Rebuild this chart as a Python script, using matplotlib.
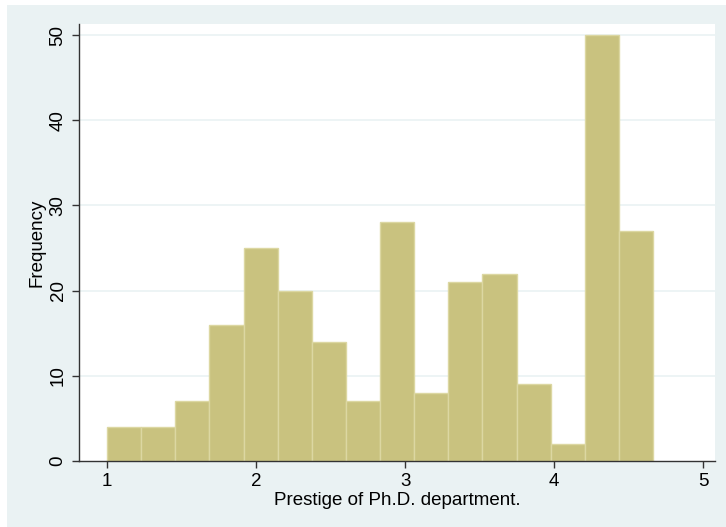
import numpy as np
import matplotlib as mpl
mpl.use('Agg')
import matplotlib.pyplot as plt

### histogram data (16 bins)
bin_start = 1.0
bin_width = 0.229
counts = [4, 4, 7, 16, 25, 20, 14, 7, 28, 8, 21, 22, 9, 2, 50, 27]
xticks = [1, 2, 3, 4, 5]
yticks = [0, 10, 20, 30, 40, 50]
xlabel = 'Prestige of Ph.D. department.'
ylabel = 'Frequency'

plt.rcParams['font.family'] = ['Liberation Sans', 'DejaVu Sans']

bg = '#EAF2F3'
barcol = '#C9C27F'
edgecol = '#DCD7A2'
axcol = '#333333'

fig = plt.figure(figsize=(7.26, 5.27), dpi=100)
fig.patch.set_facecolor('white')
# stata-like graph region (light blue-grey), small white margin top/left
fig.patches.append(mpl.patches.Rectangle((7/726., 0), 1, 1 - 5/527., transform=fig.transFigure,
                                         facecolor=bg, edgecolor='none', zorder=-10))

ax = fig.add_axes([79/726., 66/527., (715-79)/726., (461-24)/527.])
ax.set_facecolor('white')

edges = bin_start + bin_width*np.arange(len(counts))
ax.bar(edges, counts, width=bin_width, align='edge', color=barcol,
       edgecolor=edgecol, linewidth=1.0, zorder=2)

ax.set_xlim(0.812, 5.08)
ax.set_ylim(0, 51.3)
ax.set_xticks(xticks)
ax.set_yticks(yticks)
for y in yticks[1:]:
    ax.axhline(y, color=bg, linewidth=1.2, zorder=1)

for s in ['top', 'right']:
    ax.spines[s].set_visible(False)
for s in ['left', 'bottom']:
    ax.spines[s].set_color(axcol)
    ax.spines[s].set_linewidth(1.0)

ax.tick_params(axis='both', direction='out', length=5, width=1, color=axcol,
               labelsize=13.5, labelcolor='black', pad=4)
plt.setp(ax.get_yticklabels(), rotation=90, va='center')

ax.set_xlabel(xlabel, fontsize=13.5, labelpad=1)
ax.set_ylabel(ylabel, fontsize=13.5, labelpad=3)

fig.savefig('out.png', dpi=100, facecolor=fig.get_facecolor())
